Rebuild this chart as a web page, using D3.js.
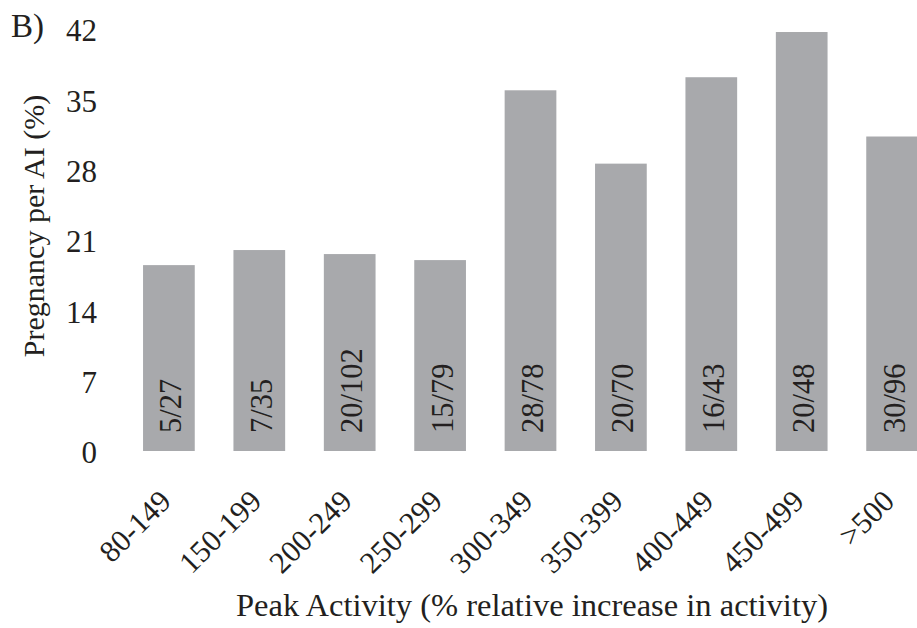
<!DOCTYPE html>
<html><head><meta charset="utf-8">
<script src="https://cdn.jsdelivr.net/npm/d3@7"></script>
<style>body{margin:0;background:#fff}svg{display:block}</style>
</head><body>
<svg id="c" width="917" height="628"></svg>
<script>
const categories = ["80-149","150-199","200-249","250-299","300-349","350-399","400-449","450-499",">500"];
const values = [18.5, 20.0, 19.6, 19.0, 35.9, 28.6, 37.2, 41.7, 31.3];
const barLabels = ["5/27","7/35","20/102","15/79","28/78","20/70","16/43","20/48","30/96"];
const yTicks = [0,7,14,21,28,35,42];

const svg = d3.select("#c");
const font = '"Liberation Serif", "Times New Roman", serif';
const ink = "#231f20";
const fs = 30;
const x = d3.scaleBand().domain(categories).range([123.7, 937.3]).paddingInner(0.428).paddingOuter(0.214);
const y = d3.scaleLinear().domain([0,42]).range([451,29]);

svg.append("g").selectAll("rect").data(values).join("rect")
  .attr("x",(d,i)=>x(categories[i])).attr("width",x.bandwidth())
  .attr("y",d=>y(d)).attr("height",d=>y(0)-y(d))
  .attr("fill","#a8a9ac");

svg.append("g").selectAll("text").data(barLabels).join("text")
  .attr("transform",(d,i)=>`translate(${x(categories[i])+x.bandwidth()/2+12.5},${y(0)-18}) rotate(-90)`)
  .style("font-family",font).style("font-size","30.5px").attr("fill",ink)
  .text(d=>d);

const ya = d3.axisLeft(y).tickValues(yTicks).tickSize(0).tickPadding(0);
const gy = svg.append("g").attr("transform","translate(97,0)").call(ya);
gy.select(".domain").remove();
gy.selectAll("text").style("font-family",font).style("font-size","31px").attr("fill",ink).attr("dy","0.38em");

const xa = d3.axisBottom(x).tickSize(0).tickPadding(0);
const gx = svg.append("g").attr("transform","translate(0,451)").call(xa);
gx.select(".domain").remove();
gx.selectAll("text").style("font-family",font).style("font-size","30.5px").attr("fill",ink)
  .attr("text-anchor","end").attr("dy",null).attr("y",0)
  .attr("transform","translate(4,52) rotate(-45)");

svg.append("text").attr("x",532).attr("y",616).attr("text-anchor","middle")
  .style("font-family",font).style("font-size","32.5px").attr("fill",ink)
  .text("Peak Activity (% relative increase in activity)");

svg.append("text").attr("transform","translate(43.5,226) rotate(-90)").attr("text-anchor","middle")
  .style("font-family",font).style("font-size",fs+"px").attr("fill",ink)
  .text("Pregnancy per AI (%)");

svg.append("text").attr("x",11).attr("y",37)
  .style("font-family",font).style("font-size","33px").attr("fill",ink).text("B)");
</script>
</body></html>
